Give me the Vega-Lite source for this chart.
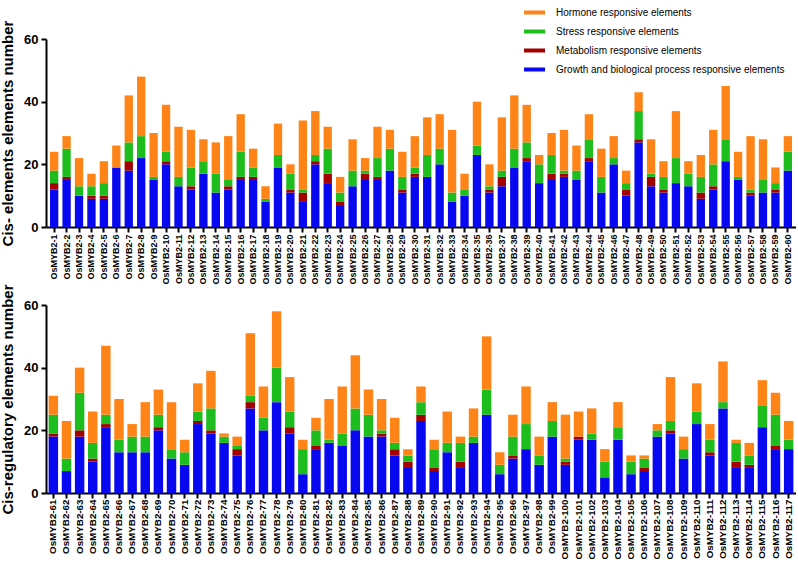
{
  "$schema": "https://vega.github.io/schema/vega-lite/v6.json",
  "padding": {"left": 0, "top": 3, "right": 0, "bottom": 0},
  "background": "white",
  "config": {
    "font": "Liberation Sans",
    "view": {"stroke": null},
    "axis": {"domainColor": "black", "domainWidth": 2, "tickColor": "black", "tickWidth": 2, "tickSize": 5, "grid": false, "labelColor": "black", "titleColor": "black"},
    "concat": {"spacing": -2}
  },
  "datasets": {
    "cats": [
      {"key": "growth", "cat": "Growth and biological process responsive elements", "rank": 1},
      {"key": "metab", "cat": "Metabolism responsive elements", "rank": 2},
      {"key": "stress", "cat": "Stress responsive elements", "rank": 3},
      {"key": "hormone", "cat": "Hormone responsive elements", "rank": 4}
    ],
    "top": [
      {"g": "OsMYB2-1", "growth": 12, "metab": 2, "stress": 4, "hormone": 6},
      {"g": "OsMYB2-2", "growth": 15, "metab": 1, "stress": 9, "hormone": 4},
      {"g": "OsMYB2-3", "growth": 10, "metab": 0, "stress": 3, "hormone": 9},
      {"g": "OsMYB2-4", "growth": 9, "metab": 1, "stress": 3, "hormone": 4},
      {"g": "OsMYB2-5", "growth": 9, "metab": 1, "stress": 4, "hormone": 7},
      {"g": "OsMYB2-6", "growth": 19, "metab": 0, "stress": 0, "hormone": 7},
      {"g": "OsMYB2-7", "growth": 18, "metab": 3, "stress": 6, "hormone": 15},
      {"g": "OsMYB2-8", "growth": 22, "metab": 0, "stress": 7, "hormone": 19},
      {"g": "OsMYB2-9", "growth": 15, "metab": 0, "stress": 1, "hormone": 14},
      {"g": "OsMYB2-10", "growth": 20, "metab": 1, "stress": 3, "hormone": 15},
      {"g": "OsMYB2-11", "growth": 13, "metab": 0, "stress": 3, "hormone": 16},
      {"g": "OsMYB2-12", "growth": 12, "metab": 1, "stress": 6, "hormone": 12},
      {"g": "OsMYB2-13", "growth": 17, "metab": 0, "stress": 4, "hormone": 7},
      {"g": "OsMYB2-14", "growth": 11, "metab": 0, "stress": 6, "hormone": 10},
      {"g": "OsMYB2-15", "growth": 12, "metab": 1, "stress": 2, "hormone": 14},
      {"g": "OsMYB2-16", "growth": 15, "metab": 1, "stress": 8, "hormone": 12},
      {"g": "OsMYB2-17", "growth": 15, "metab": 1, "stress": 3, "hormone": 6},
      {"g": "OsMYB2-18", "growth": 8, "metab": 0, "stress": 1, "hormone": 4},
      {"g": "OsMYB2-19", "growth": 19, "metab": 0, "stress": 4, "hormone": 10},
      {"g": "OsMYB2-20", "growth": 11, "metab": 1, "stress": 5, "hormone": 3},
      {"g": "OsMYB2-21", "growth": 8, "metab": 3, "stress": 1, "hormone": 22},
      {"g": "OsMYB2-22", "growth": 20, "metab": 1, "stress": 2, "hormone": 14},
      {"g": "OsMYB2-23", "growth": 14, "metab": 3, "stress": 8, "hormone": 7},
      {"g": "OsMYB2-24", "growth": 7, "metab": 1, "stress": 3, "hormone": 5},
      {"g": "OsMYB2-25", "growth": 13, "metab": 0, "stress": 5, "hormone": 10},
      {"g": "OsMYB2-26", "growth": 15, "metab": 2, "stress": 1, "hormone": 4},
      {"g": "OsMYB2-27", "growth": 15, "metab": 1, "stress": 6, "hormone": 10},
      {"g": "OsMYB2-28", "growth": 18, "metab": 0, "stress": 7, "hormone": 6},
      {"g": "OsMYB2-29", "growth": 11, "metab": 1, "stress": 4, "hormone": 8},
      {"g": "OsMYB2-30", "growth": 16, "metab": 1, "stress": 2, "hormone": 10},
      {"g": "OsMYB2-31", "growth": 16, "metab": 0, "stress": 7, "hormone": 12},
      {"g": "OsMYB2-32", "growth": 20, "metab": 0, "stress": 5, "hormone": 11},
      {"g": "OsMYB2-33", "growth": 8, "metab": 0, "stress": 3, "hormone": 20},
      {"g": "OsMYB2-34", "growth": 10, "metab": 0, "stress": 2, "hormone": 5},
      {"g": "OsMYB2-35", "growth": 23, "metab": 0, "stress": 3, "hormone": 14},
      {"g": "OsMYB2-36", "growth": 11, "metab": 1, "stress": 1, "hormone": 7},
      {"g": "OsMYB2-37", "growth": 13, "metab": 3, "stress": 2, "hormone": 17},
      {"g": "OsMYB2-38", "growth": 19, "metab": 0, "stress": 6, "hormone": 17},
      {"g": "OsMYB2-39", "growth": 21, "metab": 1, "stress": 5, "hormone": 12},
      {"g": "OsMYB2-40", "growth": 14, "metab": 0, "stress": 6, "hormone": 3},
      {"g": "OsMYB2-41", "growth": 15, "metab": 2, "stress": 6, "hormone": 7},
      {"g": "OsMYB2-42", "growth": 16, "metab": 1, "stress": 1, "hormone": 13},
      {"g": "OsMYB2-43", "growth": 15, "metab": 0, "stress": 3, "hormone": 8},
      {"g": "OsMYB2-44", "growth": 21, "metab": 1, "stress": 6, "hormone": 8},
      {"g": "OsMYB2-45", "growth": 11, "metab": 0, "stress": 5, "hormone": 9},
      {"g": "OsMYB2-46", "growth": 20, "metab": 0, "stress": 2, "hormone": 7},
      {"g": "OsMYB2-47", "growth": 10, "metab": 2, "stress": 2, "hormone": 4},
      {"g": "OsMYB2-48", "growth": 27, "metab": 1, "stress": 9, "hormone": 6},
      {"g": "OsMYB2-49", "growth": 13, "metab": 3, "stress": 1, "hormone": 11},
      {"g": "OsMYB2-50", "growth": 11, "metab": 1, "stress": 4, "hormone": 5},
      {"g": "OsMYB2-51", "growth": 14, "metab": 0, "stress": 8, "hormone": 15},
      {"g": "OsMYB2-52", "growth": 13, "metab": 0, "stress": 4, "hormone": 4},
      {"g": "OsMYB2-53", "growth": 9, "metab": 2, "stress": 5, "hormone": 7},
      {"g": "OsMYB2-54", "growth": 12, "metab": 1, "stress": 7, "hormone": 11},
      {"g": "OsMYB2-55", "growth": 21, "metab": 0, "stress": 7, "hormone": 17},
      {"g": "OsMYB2-56", "growth": 15, "metab": 0, "stress": 1, "hormone": 8},
      {"g": "OsMYB2-57", "growth": 10, "metab": 1, "stress": 1, "hormone": 17},
      {"g": "OsMYB2-58", "growth": 11, "metab": 0, "stress": 4, "hormone": 13},
      {"g": "OsMYB2-59", "growth": 11, "metab": 1, "stress": 2, "hormone": 5},
      {"g": "OsMYB2-60", "growth": 18, "metab": 0, "stress": 6, "hormone": 5}
    ],
    "bottom": [
      {"g": "OsMYB2-61", "growth": 18, "metab": 1, "stress": 6, "hormone": 6},
      {"g": "OsMYB2-62", "growth": 7, "metab": 0, "stress": 4, "hormone": 12},
      {"g": "OsMYB2-63", "growth": 18, "metab": 2, "stress": 12, "hormone": 8},
      {"g": "OsMYB2-64", "growth": 10, "metab": 1, "stress": 5, "hormone": 10},
      {"g": "OsMYB2-65", "growth": 21, "metab": 1, "stress": 3, "hormone": 22},
      {"g": "OsMYB2-66", "growth": 13, "metab": 0, "stress": 4, "hormone": 13},
      {"g": "OsMYB2-67", "growth": 13, "metab": 0, "stress": 5, "hormone": 4},
      {"g": "OsMYB2-68", "growth": 13, "metab": 0, "stress": 5, "hormone": 11},
      {"g": "OsMYB2-69", "growth": 20, "metab": 1, "stress": 4, "hormone": 8},
      {"g": "OsMYB2-70", "growth": 11, "metab": 0, "stress": 3, "hormone": 15},
      {"g": "OsMYB2-71", "growth": 9, "metab": 0, "stress": 4, "hormone": 4},
      {"g": "OsMYB2-72", "growth": 22, "metab": 1, "stress": 3, "hormone": 9},
      {"g": "OsMYB2-73", "growth": 19, "metab": 1, "stress": 7, "hormone": 12},
      {"g": "OsMYB2-74", "growth": 16, "metab": 0, "stress": 2, "hormone": 1},
      {"g": "OsMYB2-75", "growth": 12, "metab": 2, "stress": 1, "hormone": 3},
      {"g": "OsMYB2-76", "growth": 27, "metab": 2, "stress": 2, "hormone": 20},
      {"g": "OsMYB2-77", "growth": 20, "metab": 0, "stress": 4, "hormone": 10},
      {"g": "OsMYB2-78", "growth": 29, "metab": 0, "stress": 11, "hormone": 18},
      {"g": "OsMYB2-79", "growth": 19, "metab": 2, "stress": 5, "hormone": 11},
      {"g": "OsMYB2-80", "growth": 6, "metab": 0, "stress": 8, "hormone": 3},
      {"g": "OsMYB2-81", "growth": 14, "metab": 1, "stress": 5, "hormone": 4},
      {"g": "OsMYB2-82", "growth": 16, "metab": 0, "stress": 1, "hormone": 13},
      {"g": "OsMYB2-83", "growth": 15, "metab": 0, "stress": 4, "hormone": 15},
      {"g": "OsMYB2-84", "growth": 20, "metab": 0, "stress": 7, "hormone": 17},
      {"g": "OsMYB2-85", "growth": 18, "metab": 0, "stress": 7, "hormone": 8},
      {"g": "OsMYB2-86", "growth": 18, "metab": 1, "stress": 1, "hormone": 10},
      {"g": "OsMYB2-87", "growth": 12, "metab": 2, "stress": 2, "hormone": 8},
      {"g": "OsMYB2-88", "growth": 8, "metab": 2, "stress": 2, "hormone": 2},
      {"g": "OsMYB2-89", "growth": 23, "metab": 2, "stress": 4, "hormone": 5},
      {"g": "OsMYB2-90", "growth": 7, "metab": 1, "stress": 6, "hormone": 3},
      {"g": "OsMYB2-91", "growth": 13, "metab": 0, "stress": 3, "hormone": 10},
      {"g": "OsMYB2-92", "growth": 8, "metab": 2, "stress": 6, "hormone": 2},
      {"g": "OsMYB2-93", "growth": 16, "metab": 0, "stress": 2, "hormone": 9},
      {"g": "OsMYB2-94", "growth": 25, "metab": 0, "stress": 8, "hormone": 17},
      {"g": "OsMYB2-95", "growth": 6, "metab": 0, "stress": 3, "hormone": 4},
      {"g": "OsMYB2-96", "growth": 11, "metab": 1, "stress": 6, "hormone": 7},
      {"g": "OsMYB2-97", "growth": 14, "metab": 0, "stress": 8, "hormone": 12},
      {"g": "OsMYB2-98", "growth": 9, "metab": 0, "stress": 3, "hormone": 6},
      {"g": "OsMYB2-99", "growth": 18, "metab": 0, "stress": 5, "hormone": 6},
      {"g": "OsMYB2-100", "growth": 9, "metab": 1, "stress": 1, "hormone": 14},
      {"g": "OsMYB2-101", "growth": 17, "metab": 1, "stress": 0, "hormone": 8},
      {"g": "OsMYB2-102", "growth": 17, "metab": 0, "stress": 2, "hormone": 8},
      {"g": "OsMYB2-103", "growth": 5, "metab": 0, "stress": 5, "hormone": 4},
      {"g": "OsMYB2-104", "growth": 17, "metab": 0, "stress": 4, "hormone": 8},
      {"g": "OsMYB2-105", "growth": 6, "metab": 0, "stress": 4, "hormone": 2},
      {"g": "OsMYB2-106", "growth": 7, "metab": 1, "stress": 3, "hormone": 1},
      {"g": "OsMYB2-107", "growth": 18, "metab": 0, "stress": 2, "hormone": 2},
      {"g": "OsMYB2-108", "growth": 19, "metab": 1, "stress": 3, "hormone": 14},
      {"g": "OsMYB2-109", "growth": 11, "metab": 0, "stress": 3, "hormone": 4},
      {"g": "OsMYB2-110", "growth": 22, "metab": 0, "stress": 4, "hormone": 9},
      {"g": "OsMYB2-111", "growth": 12, "metab": 1, "stress": 4, "hormone": 5},
      {"g": "OsMYB2-112", "growth": 27, "metab": 0, "stress": 2, "hormone": 13},
      {"g": "OsMYB2-113", "growth": 8, "metab": 2, "stress": 6, "hormone": 1},
      {"g": "OsMYB2-114", "growth": 8, "metab": 1, "stress": 3, "hormone": 4},
      {"g": "OsMYB2-115", "growth": 21, "metab": 0, "stress": 7, "hormone": 8},
      {"g": "OsMYB2-116", "growth": 14, "metab": 1, "stress": 10, "hormone": 7},
      {"g": "OsMYB2-117", "growth": 14, "metab": 0, "stress": 3, "hormone": 6}
    ]
  },
  "vconcat": [
    {
      "width": 750,
      "height": 188,
      "data": {"name": "top"},
      "transform": [
        {"fold": ["growth", "metab", "stress", "hormone"], "as": ["key", "n"]},
        {"lookup": "key", "from": {"data": {"name": "cats"}, "key": "key", "fields": ["cat", "rank"]}}
      ],
      "mark": {"type": "bar"},
      "encoding": {
        "x": {"field": "g", "type": "nominal", "sort": null, "scale": {"paddingInner": 0.33, "paddingOuter": 0.32},
              "axis": {"title": null, "labelAngle": -90, "labelFontSize": 9, "labelFontWeight": "bold", "labelPadding": 2}},
        "y": {"field": "n", "type": "quantitative", "stack": "zero", "scale": {"domain": [0, 60]},
              "axis": {"values": [0, 20, 40, 60], "title": "Cis- elements elements number", "titleFontSize": 15, "titleFontWeight": "bold", "labelFontSize": 13, "labelFontWeight": "bold", "labelPadding": 3, "titlePadding": 8}},
        "color": {"field": "cat", "type": "nominal",
                  "scale": {"domain": ["Hormone responsive elements", "Stress responsive elements", "Metabolism responsive elements", "Growth and biological process responsive elements"],
                            "range": ["#ff8418", "#1ebd1e", "#a30000", "#0707f0"]},
                  "legend": {"orient": "none", "legendX": 478, "legendY": -36, "title": null, "padding": 0,
                             "symbolType": "M-1,-0.19H1V0.19H-1Z", "symbolSize": 441, "symbolStrokeWidth": 0,
                             "labelFontSize": 10, "labelOffset": 11, "labelColor": "black", "clipHeight": 19, "rowPadding": 0, "labelLimit": 400}},
        "order": {"field": "rank", "type": "quantitative"}
      }
    },
    {
      "width": 750,
      "height": 188,
      "data": {"name": "bottom"},
      "transform": [
        {"fold": ["growth", "metab", "stress", "hormone"], "as": ["key", "n"]},
        {"lookup": "key", "from": {"data": {"name": "cats"}, "key": "key", "fields": ["cat", "rank"]}}
      ],
      "mark": {"type": "bar"},
      "encoding": {
        "x": {"field": "g", "type": "nominal", "sort": null, "scale": {"paddingInner": 0.28, "paddingOuter": 0.2},
              "axis": {"title": null, "labelAngle": -90, "labelFontSize": 9.8, "labelFontWeight": "bold", "labelPadding": 1}},
        "y": {"field": "n", "type": "quantitative", "stack": "zero", "scale": {"domain": [0, 60]},
              "axis": {"values": [0, 20, 40, 60], "title": "Cis-regulatory elements number", "titleFontSize": 15, "titleFontWeight": "bold", "labelFontSize": 13, "labelFontWeight": "bold", "labelPadding": 3, "titlePadding": 8}},
        "color": {"field": "cat", "type": "nominal"},
        "order": {"field": "rank", "type": "quantitative"}
      }
    }
  ],
  "resolve": {"scale": {"x": "independent", "color": "shared"}}
}
